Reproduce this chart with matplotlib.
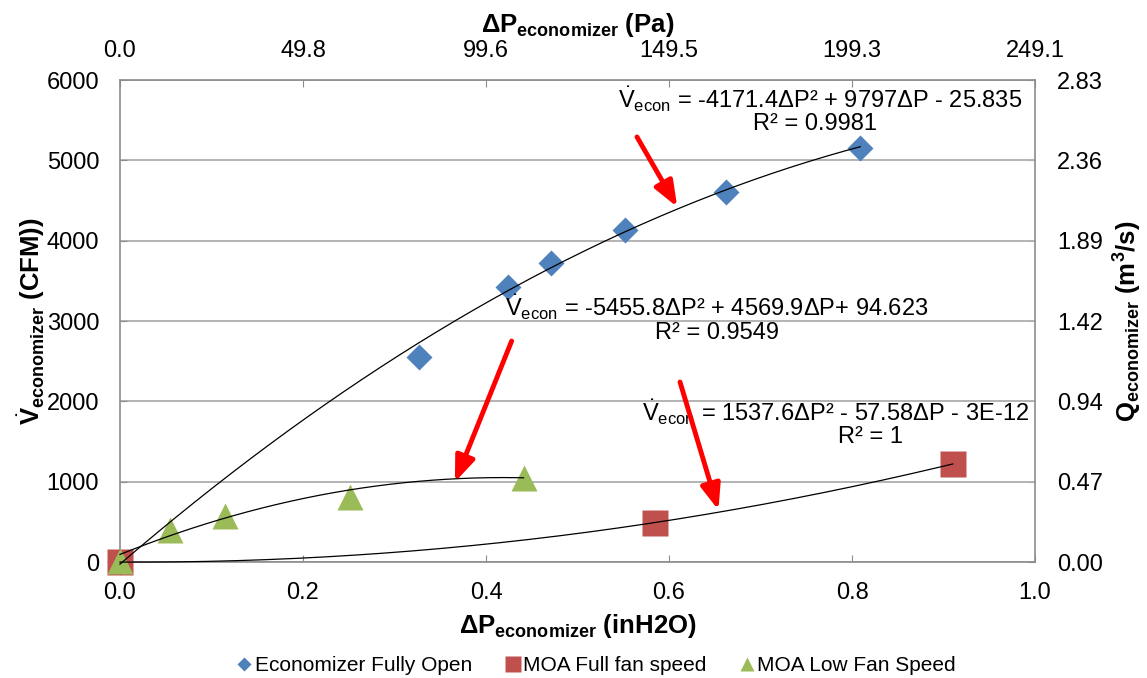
"""Economizer airflow vs. pressure drop with quadratic trendlines.

Left/bottom axes in CFM and inH2O, mirrored on the right/top in SI units.
Output: out.png
"""

import matplotlib.pyplot as plt
import numpy as np
from matplotlib.lines import Line2D
from matplotlib.ticker import FixedLocator, FormatStrFormatter

PA_PER_INH2O = 249.0889
M3S_PER_CFM = 0.000471947

# Measured points: pressure drop (inH2O) and flow (CFM)
econ_dp = [0.0, 0.327, 0.424, 0.471, 0.552, 0.662, 0.809]
econ_cfm = [0, 2552, 3423, 3722, 4133, 4606, 5154]

moa_full_dp = [0.0, 0.585, 0.910]
moa_full_cfm = [0, 492, 1221]

moa_low_dp = [0.0, 0.055, 0.115, 0.251, 0.441]
moa_low_cfm = [10, 398, 573, 809, 1046]

# Quadratic trendline coefficients (a*dp^2 + b*dp + c) and R^2
econ_fit = (-4171.4, 9797.0, -25.835)
moa_full_fit = (1537.6, -57.58, -3e-12)
moa_low_fit = (-5455.8, 4569.9, 94.623)

econ_eq = "= -4171.4ΔP² + 9797ΔP - 25.835"
moa_low_eq = "= -5455.8ΔP² + 4569.9ΔP+ 94.623"
moa_full_eq = "= 1537.6ΔP² - 57.58ΔP - 3E-12"
econ_r2 = "R² = 0.9981"
moa_low_r2 = "R² = 0.9549"
moa_full_r2 = "R² = 1"

BLUE = "#4F81BD"
RED = "#C0504D"
GREEN = "#9BBB59"
GRID = "#b3b3b3"
SPINE = "#8c8c8c"

plt.rcParams.update({
    "font.family": ["Liberation Sans", "DejaVu Sans"],
    "mathtext.fontset": "custom",
    "mathtext.rm": "Liberation Sans",
    "mathtext.it": "Liberation Sans:italic",
    "mathtext.bf": "Liberation Sans:bold",
    "font.size": 17,
})

fig = plt.figure(figsize=(11.47, 6.78), dpi=100)
ax = fig.add_axes([0.1046, 0.171, 0.7978, 0.711])


def quad(coef, x):
    a, b, c = coef
    return a * x**2 + b * x + c


# trendlines span each series' measured range
for coef, xs in ((econ_fit, econ_dp), (moa_full_fit, moa_full_dp), (moa_low_fit, moa_low_dp)):
    xx = np.linspace(min(xs), max(xs), 200)
    ax.plot(xx, quad(coef, xx), color="black", lw=0.9, zorder=4, clip_on=False)

ax.plot(econ_dp, econ_cfm, "D", color=BLUE, ms=13.5, mec="none", zorder=3, clip_on=False)
ax.plot(moa_full_dp, moa_full_cfm, "s", color=RED, ms=19, mec="none", zorder=3, clip_on=False)
ax.plot(moa_low_dp, moa_low_cfm, "^", color=GREEN, ms=19, mec="none", zorder=3, clip_on=False)

ax.set_xlim(0, 1.0)
ax.set_ylim(0, 6000)
ax.set_xticks(np.arange(0, 1.01, 0.2))
ax.set_yticks(np.arange(0, 6001, 1000))
ax.xaxis.set_major_formatter(FormatStrFormatter("%.1f"))
ax.grid(axis="y", color=GRID, lw=1.4, zorder=0)
ax.set_axisbelow(True)
for s in ax.spines.values():
    s.set_color(SPINE)
    s.set_linewidth(1.2)
ax.tick_params(axis="x", direction="in", length=5, color=SPINE, pad=14)
ax.tick_params(axis="y", direction="in", length=5, color=SPINE, pad=15)

ax.set_xlabel(r"ΔP$_{\mathbf{economizer}}$ (inH2O)", fontweight="bold", fontsize=18.5, labelpad=6)
ax.set_ylabel(r"$\dot{\mathbf{V}}_{\mathbf{economizer}}$ (CFM))", fontweight="bold", fontsize=18.5, labelpad=0)

# SI mirrors
top = ax.secondary_xaxis("top", functions=(lambda x: x * PA_PER_INH2O, lambda p: p / PA_PER_INH2O))
top.xaxis.set_major_locator(FixedLocator(np.arange(0, 1.01, 0.2) * PA_PER_INH2O))
top.xaxis.set_major_formatter(FormatStrFormatter("%.1f"))
top.tick_params(direction="in", length=5, color=SPINE, pad=13)
top.spines["top"].set_visible(False)
top.set_xlabel(r"ΔP$_{\mathbf{economizer}}$ (Pa)", fontweight="bold", fontsize=18.5, labelpad=6)

right = ax.secondary_yaxis("right", functions=(lambda v: v * M3S_PER_CFM, lambda q: q / M3S_PER_CFM))
right.yaxis.set_major_locator(FixedLocator(np.arange(0, 6001, 1000) * M3S_PER_CFM))
right.yaxis.set_major_formatter(FormatStrFormatter("%.2f"))
right.tick_params(direction="in", length=5, color=SPINE, pad=16)
right.spines["right"].set_visible(False)
right.set_ylabel(r"Q$_{\mathbf{economizer}}$ (m$^{\mathbf{3}}$/s)", fontweight="bold", fontsize=18.5, labelpad=6)

# trendline equations
vdot = r"$\dot{\mathrm{V}}_{\mathrm{econ}}$ "
eq_kw = dict(ha="center", va="center", fontsize=17, zorder=6)
ax.text(0.765, 5765, vdot + econ_eq, **eq_kw)
ax.text(0.76, 5450, econ_r2, **eq_kw)
ax.text(0.652, 3174, vdot + moa_low_eq, **eq_kw)
ax.text(0.652, 2851, moa_low_r2, **eq_kw)
ax.text(0.782, 1867, vdot + moa_full_eq, **eq_kw)
ax.text(0.82, 1560, moa_full_r2, **eq_kw)

# arrows from each equation down to its curve
arrow_tails = [(0.565, 5291), (0.428, 2751), (0.612, 2241)]
arrow_heads = [(0.609, 4419), (0.366, 996), (0.654, 647)]
for tail, head in zip(arrow_tails, arrow_heads):
    ax.annotate("", xy=head, xytext=tail,
                arrowprops=dict(arrowstyle="-|>,head_length=0.9,head_width=0.35",
                                color="red", lw=3.5, mutation_scale=17, shrinkA=0, shrinkB=0),
                zorder=7)

handles = [
    Line2D([], [], ls="none", marker="D", color=BLUE, ms=7.5, mec="none", label="Economizer Fully Open"),
    Line2D([], [], ls="none", marker="s", color=RED, ms=11, mec="none", label="MOA Full fan speed"),
    Line2D([], [], ls="none", marker="^", color=GREEN, ms=10, mec="none", label="MOA Low Fan Speed"),
]
fig.legend(handles=handles, loc="center", bbox_to_anchor=(0.52, 0.018), ncol=3, frameon=False,
           fontsize=15, handlelength=0.7, handletextpad=0.15, columnspacing=1.6)

fig.savefig("out.png", dpi=100)
